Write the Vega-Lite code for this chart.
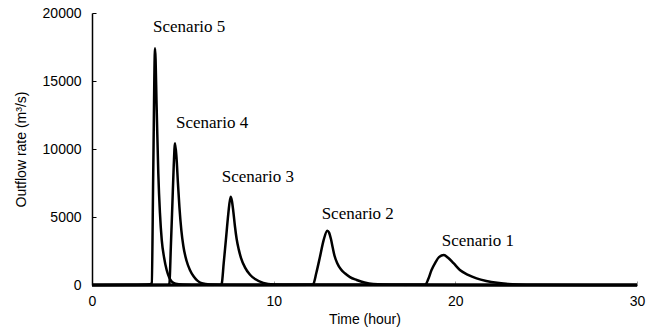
{
  "$schema": "https://vega.github.io/schema/vega-lite/v6.json",
  "width": 545,
  "height": 272,
  "autosize": {"type": "none"},
  "padding": {"left": 92, "top": 13, "right": 9, "bottom": 47},
  "background": "white",
  "config": {
    "view": {"stroke": null},
    "axis": {"grid": false, "domainColor": "black", "domainWidth": 1.5, "labelFont": "Liberation Sans", "titleFont": "Liberation Sans", "labelFontSize": 14, "titleFontSize": 14, "labelColor": "black", "titleColor": "black", "titleFontWeight": "normal"}
  },
  "layer": [
    {
      "data": {"values": [
        {"s": "5", "t": 0, "q": 0}, {"s": "5", "t": 2, "q": 20}, {"s": "5", "t": 3.2, "q": 60}, {"s": "5", "t": 3.29, "q": 150}, {"s": "5", "t": 3.37, "q": 8200}, {"s": "5", "t": 3.47, "q": 17400}, {"s": "5", "t": 3.56, "q": 13000}, {"s": "5", "t": 3.65, "q": 8200}, {"s": "5", "t": 3.74, "q": 5300}, {"s": "5", "t": 3.84, "q": 3300}, {"s": "5", "t": 3.97, "q": 2000}, {"s": "5", "t": 4.11, "q": 1100}, {"s": "5", "t": 4.25, "q": 550}, {"s": "5", "t": 4.39, "q": 250}, {"s": "5", "t": 4.6, "q": 100}, {"s": "5", "t": 5, "q": 40}, {"s": "5", "t": 6, "q": 10}, {"s": "5", "t": 30, "q": 0},
        {"s": "4", "t": 0, "q": 0}, {"s": "4", "t": 4.2, "q": 10}, {"s": "4", "t": 4.26, "q": 100}, {"s": "4", "t": 4.34, "q": 2800}, {"s": "4", "t": 4.42, "q": 5760}, {"s": "4", "t": 4.5, "q": 8800}, {"s": "4", "t": 4.57, "q": 10420}, {"s": "4", "t": 4.65, "q": 9400}, {"s": "4", "t": 4.73, "q": 7500}, {"s": "4", "t": 4.81, "q": 5760}, {"s": "4", "t": 4.92, "q": 4000}, {"s": "4", "t": 5.03, "q": 2850}, {"s": "4", "t": 5.2, "q": 1800}, {"s": "4", "t": 5.39, "q": 1100}, {"s": "4", "t": 5.6, "q": 620}, {"s": "4", "t": 5.8, "q": 320}, {"s": "4", "t": 6.04, "q": 130}, {"s": "4", "t": 6.5, "q": 40}, {"s": "4", "t": 7.5, "q": 10}, {"s": "4", "t": 30, "q": 0},
        {"s": "3", "t": 0, "q": 0}, {"s": "3", "t": 7.1, "q": 10}, {"s": "3", "t": 7.14, "q": 80}, {"s": "3", "t": 7.25, "q": 1600}, {"s": "3", "t": 7.37, "q": 3310}, {"s": "3", "t": 7.5, "q": 5200}, {"s": "3", "t": 7.63, "q": 6490}, {"s": "3", "t": 7.7, "q": 6200}, {"s": "3", "t": 7.78, "q": 5400}, {"s": "3", "t": 7.87, "q": 4300}, {"s": "3", "t": 7.96, "q": 3400}, {"s": "3", "t": 8.08, "q": 2600}, {"s": "3", "t": 8.2, "q": 2000}, {"s": "3", "t": 8.42, "q": 1300}, {"s": "3", "t": 8.7, "q": 750}, {"s": "3", "t": 9.0, "q": 420}, {"s": "3", "t": 9.43, "q": 150}, {"s": "3", "t": 10, "q": 40}, {"s": "3", "t": 11, "q": 10}, {"s": "3", "t": 30, "q": 0},
        {"s": "2", "t": 0, "q": 0}, {"s": "2", "t": 12.1, "q": 10}, {"s": "2", "t": 12.18, "q": 60}, {"s": "2", "t": 12.35, "q": 900}, {"s": "2", "t": 12.55, "q": 2080}, {"s": "2", "t": 12.75, "q": 3300}, {"s": "2", "t": 12.95, "q": 3990}, {"s": "2", "t": 13.05, "q": 3850}, {"s": "2", "t": 13.15, "q": 3400}, {"s": "2", "t": 13.25, "q": 2750}, {"s": "2", "t": 13.35, "q": 2150}, {"s": "2", "t": 13.5, "q": 1600}, {"s": "2", "t": 13.7, "q": 1150}, {"s": "2", "t": 13.92, "q": 860}, {"s": "2", "t": 14.2, "q": 580}, {"s": "2", "t": 14.57, "q": 370}, {"s": "2", "t": 15, "q": 180}, {"s": "2", "t": 15.48, "q": 70}, {"s": "2", "t": 16.5, "q": 15}, {"s": "2", "t": 30, "q": 0},
        {"s": "1", "t": 0, "q": 0}, {"s": "1", "t": 18.3, "q": 10}, {"s": "1", "t": 18.38, "q": 60}, {"s": "1", "t": 18.5, "q": 400}, {"s": "1", "t": 18.69, "q": 1100}, {"s": "1", "t": 18.9, "q": 1650}, {"s": "1", "t": 19.1, "q": 2050}, {"s": "1", "t": 19.37, "q": 2200}, {"s": "1", "t": 19.6, "q": 2000}, {"s": "1", "t": 19.9, "q": 1600}, {"s": "1", "t": 20.25, "q": 1100}, {"s": "1", "t": 20.7, "q": 750}, {"s": "1", "t": 21.17, "q": 490}, {"s": "1", "t": 21.7, "q": 300}, {"s": "1", "t": 22.3, "q": 160}, {"s": "1", "t": 22.8, "q": 90}, {"s": "1", "t": 23.5, "q": 40}, {"s": "1", "t": 24.3, "q": 15}, {"s": "1", "t": 30, "q": 0}
      ]},
      "mark": {"type": "line", "color": "black", "strokeWidth": 2.5, "interpolate": "monotone", "clip": false},
      "encoding": {
        "x": {"field": "t", "type": "quantitative", "scale": {"domain": [0, 30], "nice": false}, "axis": {"title": "Time (hour)", "values": [0, 10, 20, 30], "tickSize": -4, "tickColor": "#999", "labelPadding": 13, "titlePadding": 4, "labelFlush": false}},
        "y": {"field": "q", "type": "quantitative", "scale": {"domain": [0, 20000], "nice": false}, "axis": {"title": "Outflow rate (m³/s)", "values": [0, 5000, 10000, 15000, 20000], "format": "d", "tickSize": -4, "tickColor": "black", "labelPadding": 15, "titlePadding": 14}},
        "detail": {"field": "s"}
      }
    },
    {
      "data": {"values": [
        {"label": "Scenario 5", "t": 3.36, "q": 18600},
        {"label": "Scenario 4", "t": 4.62, "q": 11520},
        {"label": "Scenario 3", "t": 7.14, "q": 7600},
        {"label": "Scenario 2", "t": 12.64, "q": 4830},
        {"label": "Scenario 1", "t": 19.25, "q": 2890}
      ]},
      "mark": {"type": "text", "align": "left", "baseline": "alphabetic", "font": "Liberation Serif", "fontSize": 17, "color": "black"},
      "encoding": {
        "x": {"field": "t", "type": "quantitative"},
        "y": {"field": "q", "type": "quantitative"},
        "text": {"field": "label"}
      }
    }
  ]
}
